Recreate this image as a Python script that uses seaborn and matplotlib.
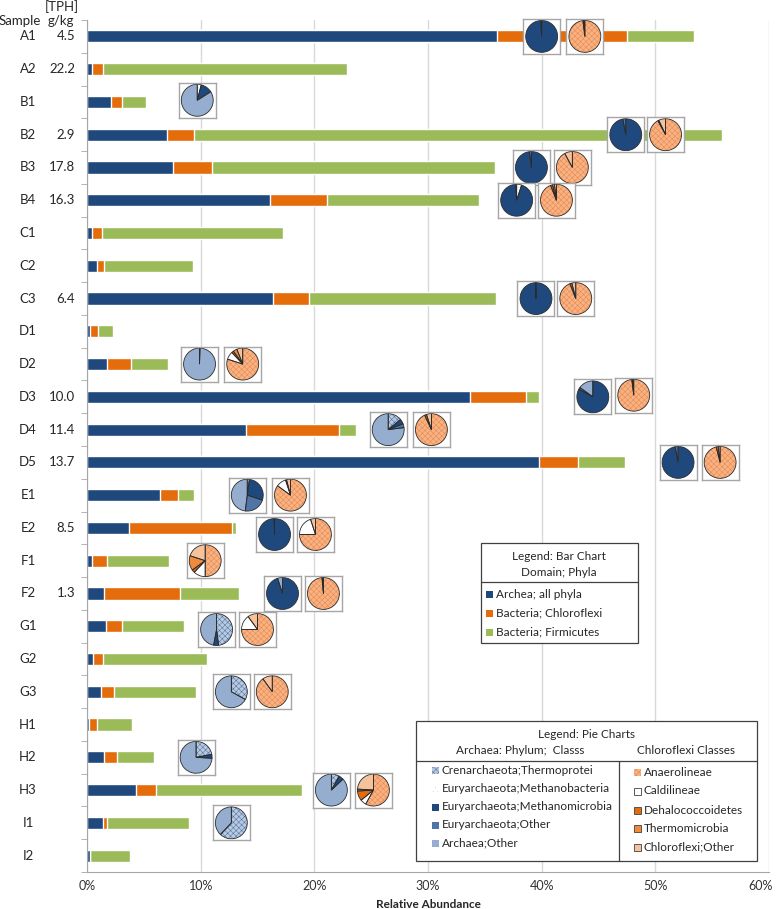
import numpy as np
import pandas as pd
import matplotlib
matplotlib.use("Agg")
import matplotlib.pyplot as plt
import matplotlib.transforms as mtransforms
from matplotlib.patches import Rectangle
from matplotlib.lines import Line2D
import seaborn as sns

# ---- bar chart data (% relative abundance) ----
samples = ["A1", "A2", "B1", "B2", "B3", "B4", "C1", "C2", "C3", "D1", "D2", "D3", "D4",
           "D5", "E1", "E2", "F1", "F2", "G1", "G2", "G3", "H1", "H2", "H3", "I1", "I2"]
tph = ["4.5", "22.2", "", "2.9", "17.8", "16.3", "", "", "6.4", "", "", "10.0", "11.4",
       "13.7", "", "8.5", "", "1.3", "", "", "", "", "", "", "", ""]
archaea = [36.1, 0.4, 2.1, 7.0, 7.6, 16.1, 0.4, 0.9, 16.4, 0.3, 1.8, 33.7, 14.0,
           39.8, 6.4, 3.7, 0.4, 1.5, 1.7, 0.5, 1.2, 0.2, 1.5, 4.3, 1.4, 0.3]
chloroflexi = [11.4, 1.0, 1.0, 2.4, 3.4, 5.0, 0.9, 0.6, 3.1, 0.7, 2.1, 4.9, 8.2,
               3.4, 1.6, 9.1, 1.4, 6.7, 1.4, 0.9, 1.2, 0.7, 1.1, 1.8, 0.4, 0.0]
firmicutes = [5.9, 21.5, 2.1, 46.5, 24.9, 13.4, 15.9, 7.8, 16.5, 1.3, 3.2, 1.2, 1.5,
              4.1, 1.4, 0.3, 5.4, 5.2, 5.4, 9.2, 7.2, 3.1, 3.3, 12.8, 7.2, 3.5]

# ---- archaea pie data (% of archaea) ----
arch_pie_samples = ["A1", "B1", "B2", "B3", "B4", "C3", "D2", "D3", "D4", "D5", "E1",
                    "E2", "F2", "G1", "G3", "H2", "H3", "I1"]
cren_thermoprotei = [0, 0, 0, 0, 0, 0, 0, 0, 14, 0, 0, 0, 0, 48, 33, 22, 8, 62]
eury_methanobact = [0, 4, 0, 0, 5, 0, 0, 0, 0, 0, 2, 0, 0, 0, 0, 0, 0, 0]
eury_methanomicro = [99, 12, 97, 98, 94, 99.5, 0, 83, 5, 97, 28, 99.5, 95, 5, 0, 4, 5, 0]
eury_other = [1, 0, 3, 2, 1, 0.5, 0.5, 2, 4, 3, 22, 0.5, 0, 0, 0, 0, 0, 0]
archaea_other = [0, 84, 0, 0, 0, 0, 99.5, 15, 77, 0, 48, 0, 5, 47, 67, 74, 87, 38]

# ---- chloroflexi pie data (% of chloroflexi) ----
chl_pie_samples = ["A1", "B2", "B3", "B4", "C3", "D2", "D3", "D4", "D5", "E1", "E2",
                   "F1", "F2", "G1", "G3", "H3"]
anaerolineae = [98, 92, 92, 94, 94, 80, 98, 93, 96, 85, 75, 50, 98.5, 75, 90, 58]
caldilineae = [0, 0, 0, 0, 0, 8, 0, 0, 0, 10, 20, 12, 0, 15, 0, 6]
dehalococcoidetes = [1, 1, 0, 2, 2, 2, 1, 2, 2, 1, 0, 3, 1, 0, 0, 10]
thermomicrobia = [0, 0, 0, 2, 0, 4, 0, 0, 0, 0, 0, 15, 0, 0, 0, 2]
chloroflexi_other = [1, 7, 8, 2, 4, 6, 1, 5, 2, 4, 5, 20, 0.5, 10, 10, 24]

# pie placement (x in %, y offset in rows)
arch_pie_x = [40.0, 9.7, 47.4, 39.1, 37.8, 39.5, 9.9, 44.5, 26.5, 52.0, 14.1,
              16.5, 17.2, 11.4, 12.7, 9.6, 21.5, 12.7]
arch_pie_dy = [0, -0.05, 0, 0, 0, 0, 0, 0, 0, 0, 0, 0.2, 0, 0.1, 0, 0, 0, 0]
chl_pie_x = [43.8, 50.9, 42.7, 41.3, 43.0, 13.7, 48.1, 30.3, 55.7, 17.9, 20.1,
             10.4, 20.8, 15.0, 16.3, 25.2]
chl_pie_dy = [0, 0, 0, 0, 0, 0, -0.05, 0, 0, 0, 0.2, 0, 0, 0.1, 0, 0]

BLUE, ORANGE, GREEN = "#1F497D", "#E46C0A", "#9BBB59"
arch_cols = ["#B8CAE2", "#FFFFFF", "#1F497D", "#4F74A6", "#95AECF"]
arch_hatch = ["xxxxxx", "....", None, None, None]
arch_hcol = ["#4F6E9C", "#D5DDEA", "#1F497D", "#4F74A6", "#95AECF"]
chl_cols = ["#F8B283", "#FFFFFF", "#E46C0A", "#F08A3C", "#F6C29C"]
chl_hatch = ["xxxxxx", None, None, None, None]
chl_hcol = ["#E5864A", "#FFFFFF", "#E46C0A", "#F08A3C", "#F6C29C"]

sns.set_style("white")
plt.rcParams["font.family"] = ["Lato", "DejaVu Sans"]
plt.rcParams["hatch.linewidth"] = 0.35

W, H = 777, 909
fig = plt.figure(figsize=(W / 100, H / 100), dpi=100)
X0, X1, Y0, Y1 = 87, 769, 20, 872
ax = fig.add_axes([X0 / W, 1 - Y1 / H, (X1 - X0) / W, (Y1 - Y0) / H])

df = pd.DataFrame({"sample": samples, "archaea": archaea,
                   "chloroflexi": chloroflexi, "firmicutes": firmicutes})
df["c2"] = df["archaea"] + df["chloroflexi"]
df["c3"] = df["c2"] + df["firmicutes"]

# stacked bars: draw cumulative totals back to front
for col, color in [("c3", GREEN), ("c2", ORANGE), ("archaea", BLUE)]:
    sns.barplot(data=df, x=col, y="sample", orient="h", color=color, saturation=1,
                width=0.37, errorbar=None, ax=ax)

ax.set_xlim(0, 60)
ax.set_ylim(len(samples) - 0.5, -0.5)
ax.set_xticks(range(0, 61, 10))
ax.set_xticklabels([f"{v}%" for v in range(0, 61, 10)], fontsize=9, color="#333333")
ax.tick_params(axis="x", length=0, pad=6)
# keep the last label inside the canvas
last = ax.get_xticklabels()[-1]
last.set_transform(last.get_transform() + mtransforms.ScaledTranslation(-6 / 72, 0, fig.dpi_scale_trans))
ax.set_yticks(range(len(samples)))
ax.set_yticklabels([])
ax.set_yticks(np.arange(-0.5, len(samples), 1), minor=True)
ax.tick_params(axis="y", which="major", length=0)
ax.tick_params(axis="y", which="minor", length=4, color="#A6A6A6", left=True)
ax.xaxis.grid(True, color="#D9D9D9", lw=1)
ax.set_axisbelow(True)
for s in ["top", "right"]:
    ax.spines[s].set_visible(False)
for s in ["left", "bottom"]:
    ax.spines[s].set_color("#A6A6A6")
ax.set_xlabel("Relative Abundance", fontsize=8.5, fontweight="bold", labelpad=5)
ax.set_ylabel("")

trans = mtransforms.blended_transform_factory(ax.transAxes, ax.transData)
for i, (s, t) in enumerate(zip(samples, tph)):
    ax.text((28 - X0) / (X1 - X0), i, s, transform=trans, ha="center", va="center", fontsize=9.5)
    if t:
        ax.text((75 - X0) / (X1 - X0), i, t, transform=trans, ha="right", va="center", fontsize=9.5)

fig.text(20 / W, 1 - 21 / H, "Sample", ha="center", va="center", fontsize=9.5)
fig.text(62 / W, 1 - 7 / H, "[TPH]", ha="center", va="center", fontsize=9.5)
fig.text(61 / W, 1 - 21 / H, "g/kg", ha="center", va="center", fontsize=9.5)


def draw_pie(cx, row, vals, cols, hatches, hcols):
    bw, bh = 37 / (X1 - X0), 35 / (Y1 - Y0)
    fx = cx / 60
    fy = 1 - (row + 0.5) / len(samples)
    pax = ax.inset_axes([fx - bw / 2, fy - bh / 2, bw, bh])
    keep = [k for k, v in enumerate(vals) if v > 0]
    v = [vals[k] for k in keep]
    wedges, _ = pax.pie(v, colors=[cols[k] for k in keep], startangle=90, counterclock=False,
                        hatch=[hatches[k] or "" for k in keep], wedgeprops=dict(linewidth=0))
    for wd, k in zip(wedges, keep):
        wd.set_edgecolor(hcols[k])
    pax.pie(v, startangle=90, counterclock=False,
            wedgeprops=dict(fill=False, edgecolor="#2B2B2B", linewidth=0.6))
    pax.set_aspect("equal", adjustable="datalim")
    pax.set_xlim(-1.16, 1.16)
    pax.set_ylim(-1.16, 1.16)
    pax.set_frame_on(True)
    pax.set_facecolor("white")
    for sp in pax.spines.values():
        sp.set_color("#A6A6A6")
        sp.set_linewidth(1)
    pax.set_xticks([])
    pax.set_yticks([])


arch_vals = list(zip(cren_thermoprotei, eury_methanobact, eury_methanomicro, eury_other, archaea_other))
for smp, x, dy, vals in zip(arch_pie_samples, arch_pie_x, arch_pie_dy, arch_vals):
    draw_pie(x, samples.index(smp) + dy, list(vals), arch_cols, arch_hatch, arch_hcol)

chl_vals = list(zip(anaerolineae, caldilineae, dehalococcoidetes, thermomicrobia, chloroflexi_other))
for smp, x, dy, vals in zip(chl_pie_samples, chl_pie_x, chl_pie_dy, chl_vals):
    draw_pie(x, samples.index(smp) + dy, list(vals), chl_cols, chl_hatch, chl_hcol)


# ---- legends (figure pixel coordinates) ----
def box(l, t, r, b):
    fig.patches.append(Rectangle((l / W, 1 - b / H), (r - l) / W, (b - t) / H, transform=fig.transFigure,
                                 facecolor="white", edgecolor="#404040", lw=0.9, zorder=5))


def hline(l, r, y):
    fig.lines.append(Line2D([l / W, r / W], [1 - y / H, 1 - y / H], transform=fig.transFigure,
                            color="#404040", lw=0.9, zorder=6))


def vline(x, t, b):
    fig.lines.append(Line2D([x / W, x / W], [1 - t / H, 1 - b / H], transform=fig.transFigure,
                            color="#404040", lw=0.9, zorder=6))


def entry(x, y, label, face, hatch=None, hcol=None, edge=None):
    sq = 7
    fig.patches.append(Rectangle((x / W, 1 - (y + sq / 2) / H), sq / W, sq / H, transform=fig.transFigure,
                                 facecolor=face, hatch=hatch, edgecolor=edge or hcol or face,
                                 lw=0.6 if edge else 0, zorder=7))
    fig.text((x + sq + 3) / W, 1 - y / H, label, ha="left", va="center", fontsize=8.5,
             color="#262626", zorder=7)


box(481, 543, 638, 643)
hline(481, 638, 582)
fig.text(559 / W, 1 - 556 / H, "Legend: Bar Chart", ha="center", va="center", fontsize=8.5, zorder=7)
fig.text(559 / W, 1 - 572 / H, "Domain; Phyla", ha="center", va="center", fontsize=8.5, zorder=7)
for yy, lab, c in zip([594, 613, 632], ["Archea; all phyla", "Bacteria; Chloroflexi", "Bacteria; Firmicutes"],
                      [BLUE, ORANGE, GREEN]):
    entry(486, yy, lab, c)

box(416, 721, 757, 861)
hline(416, 757, 761)
vline(619, 761, 861)
fig.text(586 / W, 1 - 734 / H, "Legend: Pie Charts", ha="center", va="center", fontsize=8.5, zorder=7)
fig.text(520 / W, 1 - 750 / H, "Archaea: Phylum;  Classs", ha="center", va="center", fontsize=8.5, zorder=7)
fig.text(686 / W, 1 - 750 / H, "Chloroflexi Classes", ha="center", va="center", fontsize=8.5, zorder=7)
arch_labels = ["Crenarchaeota;Thermoprotei", "Euryarchaeota;Methanobacteria",
               "Euryarchaeota;Methanomicrobia", "Euryarchaeota;Other", "Archaea;Other"]
for yy, lab, c, hh, hc in zip([770, 788, 807, 825, 843], arch_labels, arch_cols, arch_hatch, arch_hcol):
    entry(432, yy, lab, c, hh, hc)
chl_labels = ["Anaerolineae", "Caldilineae", "Dehalococcoidetes", "Thermomicrobia", "Chloroflexi;Other"]
chl_edges = ["#C0504D", "#404040", "#404040", "#404040", "#404040"]
for yy, lab, c, hh, hc, ed in zip([772, 791, 810, 828, 847], chl_labels, chl_cols, chl_hatch, chl_hcol, chl_edges):
    entry(634, yy, lab, c, hh, hc, edge=None if hh else ed)

fig.savefig("out.png", dpi=100)
